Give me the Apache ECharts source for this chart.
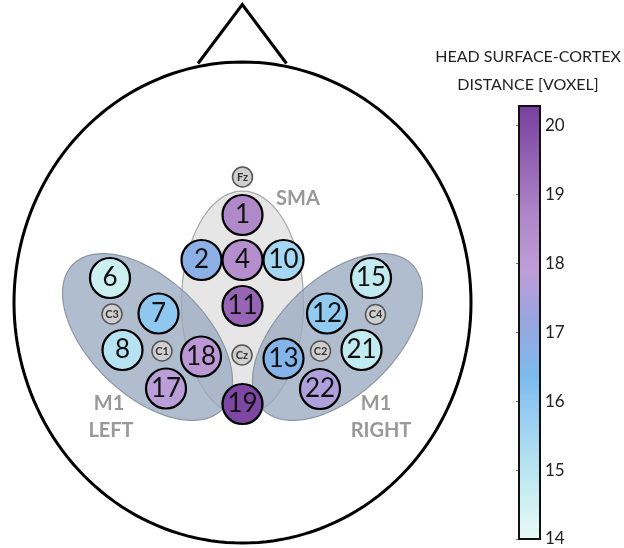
<!DOCTYPE html>
<html>
<head>
<meta charset="utf-8">
<script src="https://cdn.jsdelivr.net/npm/echarts@6/dist/echarts.min.js"></script>
<style>
  html, body { margin: 0; padding: 0; background: #fff; }
  #chart { width: 624px; height: 548px; }
</style>
</head>
<body>
<div id="chart"></div>
<script>
// stimulation sites (numbered) and their head surface-cortex distance [voxel]
const siteNames = ['1', '2', '4', '10', '11', '19', '6', '7', '8', '18', '17', '15', '12', '21', '13', '22'];
const siteX = [242.5, 201.5, 242.5, 283.5, 242.5, 242.5, 110, 158.5, 122.5, 201, 166, 371, 327, 361.5, 283.5, 320];
const siteY = [215, 260, 260, 260, 306, 404, 278, 313.5, 350, 356.5, 388.5, 278, 313.5, 350, 358.5, 389];
const siteDistance = [18.6, 16.8, 18.4, 15.5, 19.4, 20.1, 14.6, 16.0, 15.1, 18.1, 17.8, 14.8, 15.9, 14.8, 16.6, 17.6];

// 10-20 reference electrodes
const refNames = ['Fz', 'C3', 'C1', 'Cz', 'C2', 'C4'];
const refX = [242.5, 112, 162, 242, 320.5, 375.5];
const refY = [177, 314, 351, 355, 351, 314.5];

// colour bar
const colorMin = 14;
const colorMax = 20.28;
const colorTicks = [14, 15, 16, 17, 18, 19, 20];
const colorScale = ['#e8faf6', '#c3ebf1', '#a2d5f2', '#7dbbee', '#97a6e0', '#bf9cd7', '#ae86c7', '#9362b3', '#773f9e'];

// outline shapes: [cx, cy, rx, ry, rotation deg]
const headShape = [242.5, 302.5, 228.5, 240.5, 0];
const noseShape = [[198, 63.5], [242.3, 4.5], [286.5, 63.5]];
const regionShapes = [
  [242.5, 303, 61, 112, 0],
  [147.5, 337, 104, 58, 44],
  [337.5, 337, 104, 58, -44]
];

const chart = echarts.init(document.getElementById('chart'));

function ellipsePoints(api, s) {
  const r = s[4] * Math.PI / 180;
  const pts = [];
  for (let i = 0; i < 180; i++) {
    const t = i / 180 * Math.PI * 2;
    const x = s[0] + s[2] * Math.cos(t) * Math.cos(r) - s[3] * Math.sin(t) * Math.sin(r);
    const y = s[1] + s[2] * Math.cos(t) * Math.sin(r) + s[3] * Math.sin(t) * Math.cos(r);
    pts.push(api.coord([x, y]));
  }
  return pts;
}

const labelFont = 'Lato, "Open Sans", sans-serif';
const regionLabel = { fill: '#999', font: 'bold 20px ' + labelFont, align: 'center', verticalAlign: 'middle' };
const titleStyle = { fill: '#222', font: '16px ' + labelFont, align: 'center', verticalAlign: 'middle' };

const option = {
  animation: false,
  grid: [
    { left: 0, top: 0, width: 624, height: 548 },
    { left: 519, top: 106, width: 21, height: 433 }
  ],
  xAxis: [
    { gridIndex: 0, type: 'value', min: 0, max: 624, show: false },
    { gridIndex: 1, type: 'value', min: 0, max: 1, show: false }
  ],
  yAxis: [
    { gridIndex: 0, type: 'value', min: 0, max: 548, inverse: true, show: false },
    {
      gridIndex: 1, type: 'value', min: colorMin, max: colorMax, position: 'right',
      axisLine: { show: false },
      splitLine: { show: false },
      axisTick: { show: true, inside: true, length: 3, customValues: colorTicks, lineStyle: { color: '#777', width: 1 } },
      axisLabel: { customValues: colorTicks, margin: 5, color: '#222', fontSize: 17, fontFamily: labelFont }
    }
  ],
  visualMap: {
    show: false,
    type: 'continuous',
    seriesIndex: 3,
    dimension: 2,
    min: colorMin,
    max: colorMax,
    inRange: { color: colorScale }
  },
  graphic: [
    { type: 'text', style: Object.assign({ text: 'HEAD SURFACE-CORTEX', x: 528, y: 57 }, titleStyle) },
    { type: 'text', style: Object.assign({ text: 'DISTANCE [VOXEL]', x: 528, y: 85 }, titleStyle) },
    { type: 'text', style: Object.assign({ text: 'SMA', x: 298, y: 199 }, regionLabel) },
    { type: 'text', style: Object.assign({ text: 'M1', x: 109, y: 404 }, regionLabel) },
    { type: 'text', style: Object.assign({ text: 'LEFT', x: 111, y: 431 }, regionLabel) },
    { type: 'text', style: Object.assign({ text: 'M1', x: 376, y: 404 }, regionLabel) },
    { type: 'text', style: Object.assign({ text: 'RIGHT', x: 381, y: 431 }, regionLabel) }
  ],
  series: [
    {
      // head outline and nose
      type: 'custom',
      silent: true,
      data: [0],
      renderItem: (params, api) => ({
        type: 'group',
        children: [
          { type: 'polygon', shape: { points: ellipsePoints(api, headShape) }, style: { fill: 'none', stroke: '#000', lineWidth: 3 } },
          { type: 'polyline', shape: { points: noseShape.map(p => api.coord(p)) }, style: { fill: 'none', stroke: '#000', lineWidth: 3, lineJoin: 'miter' } }
        ]
      })
    },
    {
      // SMA region
      type: 'custom',
      silent: true,
      data: [0],
      renderItem: (params, api) => ({
        type: 'polygon',
        shape: { points: ellipsePoints(api, regionShapes[0]) },
        style: { fill: '#e6e6e6', stroke: '#a6a6a6', lineWidth: 1.2 }
      })
    },
    {
      // M1 left / right regions
      type: 'custom',
      silent: true,
      data: [1, 2],
      renderItem: (params, api) => ({
        type: 'polygon',
        shape: { points: ellipsePoints(api, regionShapes[api.value(0)]) },
        style: { fill: 'rgba(152,171,193,0.78)', stroke: '#8d96a2', lineWidth: 1.2 }
      })
    },
    {
      type: 'scatter',
      symbol: 'circle',
      symbolSize: 40,
      data: siteNames.map((n, i) => [siteX[i], siteY[i], siteDistance[i], n]),
      itemStyle: { borderColor: '#000', borderWidth: 2.2, opacity: 1 },
      label: {
        show: true,
        position: 'inside',
        formatter: p => p.value[3],
        color: '#111',
        fontSize: 26,
        fontFamily: labelFont
      },
      z: 5
    },
    {
      type: 'scatter',
      symbol: 'circle',
      symbolSize: 20,
      data: refNames.map((n, i) => [refX[i], refY[i], n]),
      itemStyle: { color: '#cfcfcf', borderColor: '#555', borderWidth: 1.5, opacity: 1 },
      label: {
        show: true,
        position: 'inside',
        formatter: p => p.value[2],
        color: '#333',
        fontSize: 11,
        fontWeight: 'bold',
        fontFamily: labelFont
      },
      z: 5
    },
    {
      // colour bar
      type: 'custom',
      xAxisIndex: 1,
      yAxisIndex: 1,
      silent: true,
      data: [0],
      renderItem: (params, api) => {
        const p0 = api.coord([0, colorMax]);
        const p1 = api.coord([1, colorMin]);
        return {
          type: 'rect',
          shape: { x: p0[0], y: p0[1], width: p1[0] - p0[0], height: p1[1] - p0[1] },
          style: {
            fill: new echarts.graphic.LinearGradient(0, 1, 0, 0,
              colorScale.map((c, i) => ({ offset: i / (colorScale.length - 1), color: c }))),
            stroke: '#111',
            lineWidth: 2
          }
        };
      }
    }
  ]
};

chart.setOption(option);
</script>
</body>
</html>
